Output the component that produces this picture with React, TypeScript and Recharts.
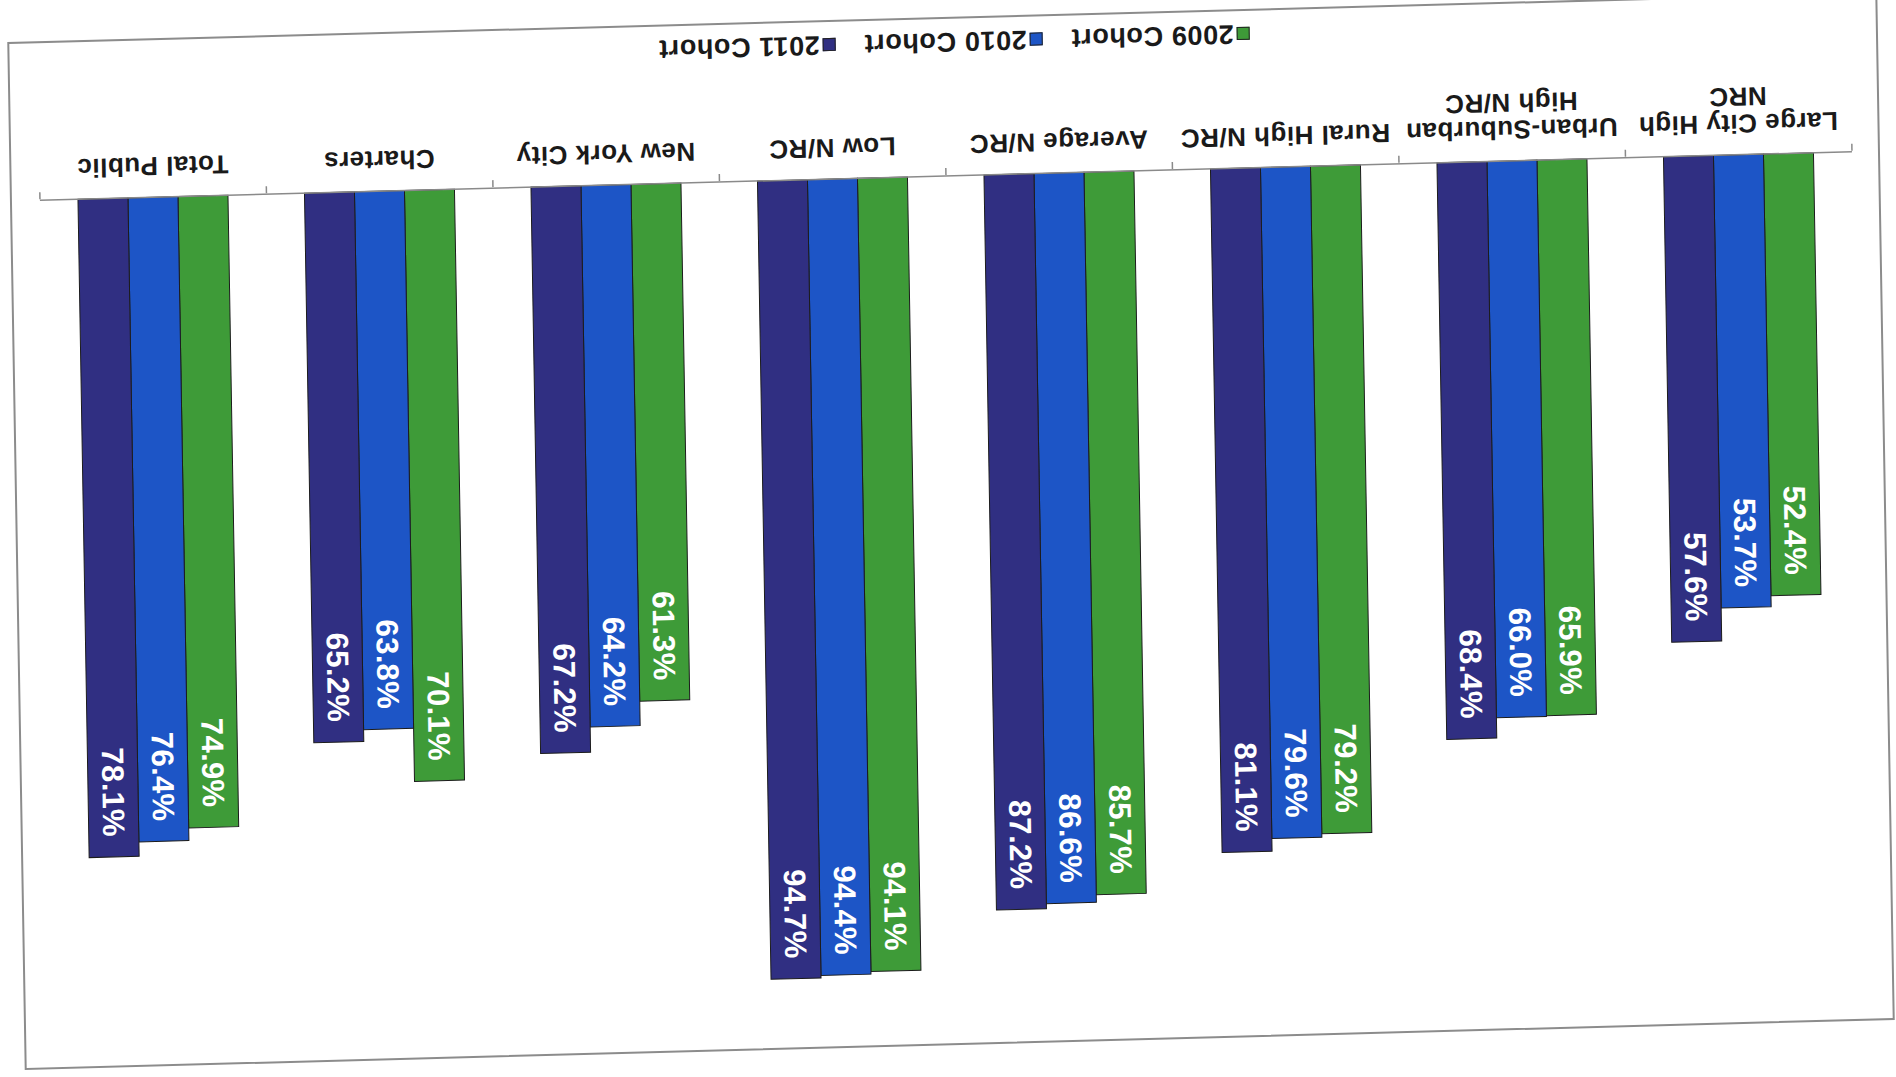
import { BarChart, Bar, XAxis, YAxis, Legend, LabelList } from "recharts";

// categories, left to right as the chart was drawn (the scan is upside down)
const categories = [
  "Large City High\nNRC",
  "Urban-Suburban\nHigh N/RC",
  "Rural High N/RC",
  "Average N/RC",
  "Low N/RC",
  "New York City",
  "Charters",
  "Total Public",
];

const cohort2009 = [52.4, 65.9, 79.2, 85.7, 94.1, 61.3, 70.1, 74.9];
const cohort2010 = [53.7, 66.0, 79.6, 86.6, 94.4, 64.2, 63.8, 76.4];
const cohort2011 = [57.6, 68.4, 81.1, 87.2, 94.7, 67.2, 65.2, 78.1];

const seriesNames = ["2009 Cohort", "2010 Cohort", "2011 Cohort"];
const seriesColors = ["#3e9b38", "#1d55c6", "#302f82"];

const valueDomain = [0, 100];
// tick marks sit between categories, at both ends too
const edgeTicks = [...categories.map((_, i) => i), categories.length];

const data = categories.map((name, i) => ({
  name,
  c2009: cohort2009[i],
  c2010: cohort2010[i],
  c2011: cohort2011[i],
}));

const W = 1870;
const H = 1028;
const FONT = "'Liberation Sans', Arial, sans-serif";
const AXIS_GREY = "#8a8a8a";

const CategoryTick = (props: any) => {
  const { x, y, payload } = props;
  const lines = String(payload.value).split("\n");
  return (
    <text
      x={x}
      y={y + 40}
      textAnchor="middle"
      fill="#1a1a1a"
      fontFamily={FONT}
      fontSize={26}
      fontWeight={700}
      letterSpacing={0.5}
    >
      {lines.map((l, i) => (
        <tspan key={i} x={x} dy={i === 0 ? 0 : 27}>
          {l}
        </tspan>
      ))}
    </text>
  );
};

const NoLabel = () => <g />;

const BarValueLabel = (props: any) => {
  const x = Number(props.x);
  const y = Number(props.y);
  const width = Number(props.width);
  const cx = x + width / 2;
  const ty = y + 20;
  return (
    <text
      x={cx}
      y={ty}
      transform={`rotate(-90 ${cx} ${ty})`}
      textAnchor="end"
      dominantBaseline="central"
      fill="#ffffff"
      fontFamily={FONT}
      fontSize={31}
      fontWeight={700}
      letterSpacing={0.3}
    >
      {Number(props.value).toFixed(1)}%
    </text>
  );
};

const LegendContent = (props: any) => {
  const items = props.payload || [];
  return (
    <div style={{ display: "flex", height: 30, alignItems: "center" }}>
      {items.map((it: any) => (
        <div
          key={it.value}
          style={{ width: 207, display: "flex", alignItems: "center" }}
        >
          <span
            style={{
              width: 11,
              height: 11,
              background: it.color,
              border: "1px solid #222",
              display: "inline-block",
            }}
          />
          <span
            style={{
              marginLeft: 3,
              fontFamily: FONT,
              fontSize: 27,
              fontWeight: 700,
              letterSpacing: 0.6,
              color: "#1a1a1a",
              whiteSpace: "nowrap",
            }}
          >
            {it.value}
          </span>
        </div>
      ))}
    </div>
  );
};

export default function App() {
  return (
    <div
      style={{
        position: "absolute",
        left: 0,
        top: 0,
        width: 1896,
        height: 1077,
        overflow: "hidden",
        background: "#fff",
      }}
    >
      {/* the source is a scan that was fed in upside down and a little skewed */}
      <div
        style={{
          position: "absolute",
          left: 16,
          top: 17,
          width: W,
          height: H,
          background: "#fff",
          transformOrigin: "50% 50%",
          transform: "matrix(-1, 0.0268, -0.017, -1, 0, 0)",
        }}
      >
        <BarChart
          width={W}
          height={H}
          data={data}
          margin={{ top: 26, right: 30, bottom: 157, left: 28 }}
          barCategoryGap="17%"
          barGap={0}
        >
          <XAxis
            xAxisId="edges"
            dataKey="idx"
            type="number"
            domain={[0, categories.length]}
            ticks={edgeTicks}
            allowDataOverflow
            height={1}
            axisLine={false}
            tick={<NoLabel />}
            tickLine={{ stroke: AXIS_GREY, strokeWidth: 1.5 }}
            tickSize={7}
          />
          <XAxis
            dataKey="name"
            height={1}
            interval={0}
            axisLine={{ stroke: AXIS_GREY, strokeWidth: 1.5 }}
            tickLine={false}
            tickSize={0}
            tickMargin={0}
            tick={<CategoryTick />}
          />
          <YAxis hide domain={valueDomain} />
          <Legend
            verticalAlign="middle"
            layout="horizontal"
            wrapperStyle={{ position: "absolute", left: 628, top: 988, width: 640 }}
            content={<LegendContent />}
          />
          <Bar
            dataKey="c2009"
            name={seriesNames[0]}
            fill={seriesColors[0]}
            stroke="#1c1c1c"
            strokeWidth={1}
            isAnimationActive={false}
          >
            <LabelList dataKey="c2009" content={<BarValueLabel />} />
          </Bar>
          <Bar
            dataKey="c2010"
            name={seriesNames[1]}
            fill={seriesColors[1]}
            stroke="#1c1c1c"
            strokeWidth={1}
            isAnimationActive={false}
          >
            <LabelList dataKey="c2010" content={<BarValueLabel />} />
          </Bar>
          <Bar
            dataKey="c2011"
            name={seriesNames[2]}
            fill={seriesColors[2]}
            stroke="#1c1c1c"
            strokeWidth={1}
            isAnimationActive={false}
          >
            <LabelList dataKey="c2011" content={<BarValueLabel />} />
          </Bar>
        </BarChart>
        <div
          style={{
            position: "absolute",
            left: 0,
            top: 0,
            width: W,
            height: H,
            boxSizing: "border-box",
            border: "2px solid #8c8c8c",
            pointerEvents: "none",
          }}
        />
      </div>
    </div>
  );
}
